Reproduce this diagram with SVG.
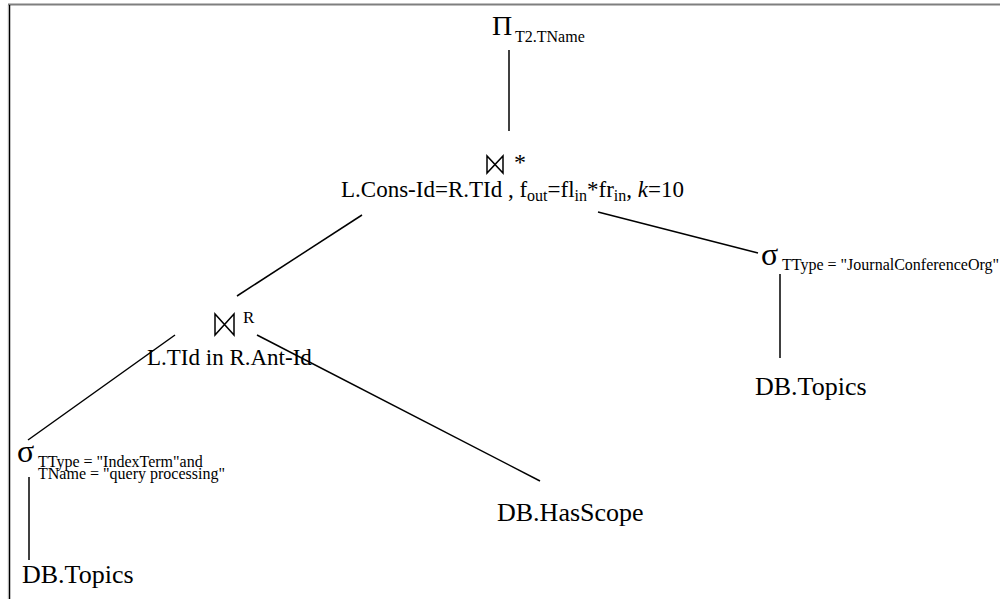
<svg xmlns="http://www.w3.org/2000/svg" width="1000" height="599" viewBox="0 0 1000 599">
<style>
  text { font-family: "Liberation Serif", "Times New Roman", serif; fill: #000; }
  .big { font-size: 28px; }
  .sig { font-size: 32px; }
  .lbl { font-size: 23px; }
  .db { font-size: 26px; }
  .sub { font-size: 16px; }
  .edge { stroke: #000; stroke-width: 1.5; fill: none; }
  .bowtie { stroke: #000; stroke-width: 1.5; fill: none; stroke-linejoin: miter; }
</style>
<rect x="0" y="0" width="1000" height="599" fill="#fff"/>
<line x1="8" y1="4.5" x2="1000" y2="4.5" stroke="#7f7f7f" stroke-width="2"/>
<line x1="8" y1="5" x2="8" y2="599" stroke="#e0e0e0" stroke-width="1"/>
<line x1="9.5" y1="5" x2="9.5" y2="599" stroke="#000" stroke-width="1.5"/>

<g id="connectors">
  <line class="edge" x1="509" y1="50" x2="509" y2="131"/>
  <line class="edge" x1="362" y1="215" x2="237" y2="296"/>
  <line class="edge" x1="598" y1="212" x2="758" y2="253"/>
  <line class="edge" x1="780" y1="274" x2="780" y2="358"/>
  <line class="edge" x1="175" y1="335" x2="28" y2="440"/>
  <line class="edge" x1="257" y1="335" x2="540" y2="481"/>
  <line class="edge" x1="29" y1="477" x2="29" y2="560"/>
</g>

<g id="projection">
  <text class="big" x="492" y="35">Π</text>
  <text class="sub" x="515" y="42">T2.TName</text>
</g>

<g id="topk-join">
  <path class="bowtie" d="M487,156 L487,173 L503,156 L503,173 Z"/>
  <text x="514" y="170" style="font-size:24px">*</text>
  <text class="lbl" x="341" y="197">L.Cons-Id=R.TId , f<tspan class="sub" dy="4">out</tspan><tspan dy="-4">=fl</tspan><tspan class="sub" dy="4">in</tspan><tspan dy="-4">*fr</tspan><tspan class="sub" dy="4">in</tspan><tspan dy="-4">, </tspan><tspan font-style="italic">k</tspan>=10</text>
</g>

<g id="select-journal">
  <text class="sig" x="761" y="265">σ</text>
  <text class="sub" x="782" y="270">TType = "JournalConferenceOrg"</text>
</g>

<g id="topics-right">
  <text class="db" x="755" y="395">DB.Topics</text>
</g>

<g id="r-join">
  <path class="bowtie" d="M215,314 L215,335 L234,314 L234,335 Z"/>
  <text x="243" y="323" style="font-size:17px">R</text>
  <text class="lbl" x="147" y="365">L.TId in R.Ant-Id</text>
</g>

<g id="select-index">
  <text class="sig" x="17" y="462">σ</text>
  <text class="sub"><tspan x="38" y="467">TType = "IndexTerm"and</tspan><tspan x="38" y="479">TName = "query processing"</tspan></text>
</g>

<g id="topics-left">
  <text class="db" x="22" y="583">DB.Topics</text>
</g>

<g id="hasscope">
  <text class="db" x="497" y="521">DB.HasScope</text>
</g>
</svg>
